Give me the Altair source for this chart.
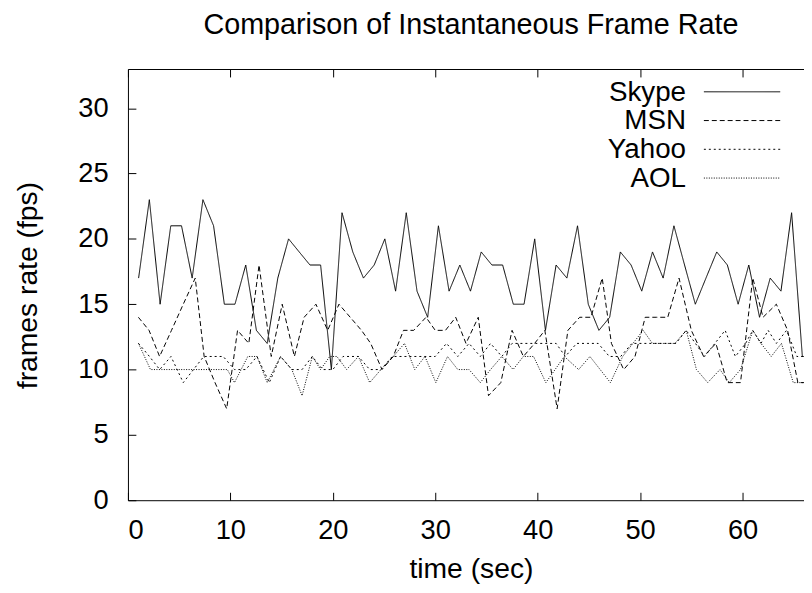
import altair as alt
import pandas as pd

names = ["Skype", "MSN", "Yahoo", "AOL"]

skype_t = [1.04, 2.09, 3.14, 4.18, 5.23, 6.27, 7.32, 8.36, 9.41, 10.45, 11.5, 12.54, 13.59, 14.63, 15.68, 16.72,
           17.77, 18.81, 19.86, 20.9, 21.95, 22.99, 24.04, 25.08, 26.13, 27.17, 28.22, 29.26, 30.31, 31.35, 32.4,
           33.44, 34.49, 35.53, 36.58, 37.62, 38.67, 39.71, 40.76, 41.8, 42.85, 43.89, 44.94, 45.98, 47.03, 48.07,
           49.12, 50.16, 51.21, 52.25, 53.3, 54.34, 55.39, 56.43, 57.48, 58.52, 59.57, 60.61, 61.66, 62.7, 63.75,
           64.79, 65.84, 66.88]
skype_v = [17, 23, 15, 21, 21, 17, 23, 21, 15, 15, 18, 13, 12, 17, 20, 19, 18, 18, 10, 22, 19, 17, 18, 20, 16, 22,
           16, 14, 21, 16, 18, 16, 19, 18, 18, 15, 15, 20, 13, 18, 17, 21, 15, 13, 14, 19, 18, 16, 19, 17, 21, 18,
           15, 17, 19, 18, 15, 18, 14, 17, 16, 22, 11, 11]

msn_t = [1.02, 2.06, 3.09, 4.25, 5.4, 6.57, 7.44, 8.5, 9.64, 10.7, 11.8, 12.8, 13.99, 15.06, 16.25, 17.2, 18.35,
         19.5, 20.6, 21.7, 22.8, 23.7, 24.8, 25.9, 26.9, 27.9, 29.1, 30.0, 31.0, 32.0, 33.0, 34.2, 35.2, 36.4, 37.5,
         38.6, 39.7, 40.7, 41.9, 42.95, 44.1, 45.2, 46.3, 47.2, 48.4, 49.5, 50.5, 51.6, 52.7, 53.8, 55.0, 56.2,
         57.4, 58.5, 59.8, 61.0, 62.0, 63.3, 64.4, 65.4, 66.5]
msn_v = [14, 13, 11, 13, 15, 17, 11, 9, 7, 13, 12, 18, 11, 15, 11, 14, 15, 13, 15, 14, 13, 12, 10, 11, 13, 13, 14,
         13, 13, 14, 12, 14, 8, 9, 13, 11, 12, 13, 7, 13, 14, 14, 17, 12, 10, 11, 14, 14, 14, 17, 13, 11, 12, 9, 9,
         17, 14, 15, 13, 9, 9]

yahoo_t = [1.03, 2.1, 3.1, 4.2, 5.4, 6.4, 7.4, 8.4, 9.3, 10.4, 11.5, 12.6, 13.8, 14.9, 16.0, 17.0, 18.0, 19.0,
           20.0, 21.0, 22.5, 23.6, 24.7, 25.8, 26.8, 27.9, 29.0, 30.0, 31.1, 32.2, 33.3, 34.4, 35.4, 36.5, 37.5,
           38.6, 39.7, 40.8, 41.8, 42.7, 43.8, 44.9, 45.9, 47.0, 48.1, 49.2, 50.2, 51.3, 52.4, 53.5, 54.5, 55.4,
           56.3, 57.3, 58.3, 59.3, 60.3, 61.0, 61.8, 62.5, 63.3, 64.3, 65.3, 66.3]
yahoo_v = [12, 11, 10, 11, 9, 10, 11, 11, 11, 10, 10, 11, 9, 11, 10, 10, 11, 10, 10, 11, 11, 10, 10, 11, 11, 11, 11,
           11, 12, 11, 12, 11, 12, 11, 12, 12, 12, 12, 12, 11, 12, 12, 12, 11, 11, 12, 12, 12, 12, 12, 13, 12, 11,
           12, 13, 11, 12, 13, 12, 13, 12, 13, 11, 11]

aol_t = [1.03, 2.2, 3.3, 4.4, 5.5, 6.5, 7.6, 8.6, 9.7, 10.4, 11.7, 12.6, 13.6, 14.9, 16.0, 17.0, 18.0, 18.8, 19.7,
         20.4, 21.35, 22.5, 23.6, 24.7, 25.9, 27.0, 28.0, 29.0, 30.06, 31.2, 32.2, 33.3, 34.4, 35.4, 36.5, 37.6,
         38.6, 39.6, 40.8, 41.7, 42.6, 44.0, 45.1, 47.1, 48.3, 49.3, 50.3, 51.2, 52.3, 53.4, 54.5, 55.5, 56.6,
         57.8, 58.7, 59.8, 61.0, 61.8, 62.8, 63.8, 64.95, 65.9, 67.0]
aol_v = [12, 10, 10, 10, 10, 10, 10, 10, 10, 9, 11, 11, 9, 11, 10, 8, 11, 10, 11, 11, 10, 11, 9, 10, 11, 12, 10, 11,
         9, 11, 10, 10, 9, 10, 11, 10, 11, 11, 9, 10, 11, 10, 11, 9, 11, 12, 13, 12, 12, 12, 13, 10, 9, 10, 9, 10,
         13, 12, 11, 12, 9, 9, 9]

x_ticks = [0, 10, 20, 30, 40, 50, 60]
y_ticks = [0, 5, 10, 15, 20, 25, 30]
dashes = [[1, 0], [5, 3], [2, 3], [1, 1.5]]

frames = []
for name, t, v in zip(names, [skype_t, msn_t, yahoo_t, aol_t], [skype_v, msn_v, yahoo_v, aol_v]):
    frames.append(pd.DataFrame({"series": name, "t": t, "v": v}))
df = pd.concat(frames, ignore_index=True)
leg_df = pd.DataFrame({"series": names})

FONT = "Liberation Sans"
W, H = 682, 435

xscale = alt.Scale(domain=[0, 66], nice=False, zero=False)
yscale = alt.Scale(domain=[0, 33], nice=False)
dash_scale = alt.Scale(domain=names, range=dashes)

lines = alt.Chart(df).mark_line(clip=True, strokeWidth=1, color="black").encode(
    x=alt.X("t:Q", scale=xscale, axis=alt.Axis(
        values=x_ticks, title="time (sec)", labelFont=FONT, labelFontSize=27.5, labelColor="black",
        labelPadding=17, ticks=False, tickSize=0, domainColor="black", domainWidth=1,
        grid=True, gridDash=[8, H - 16, 8, 3000], gridColor="black", gridWidth=1, gridOpacity=1,
        titleFont=FONT, titleFontSize=28.5, titleFontWeight="normal", titleColor="black",
        titleX=346, titleY=78, titleBaseline="alphabetic", titleAlign="center")),
    y=alt.Y("v:Q", scale=yscale, axis=alt.Axis(
        values=y_ticks, title="frames rate (fps)", labelFont=FONT, labelFontSize=27.5, labelColor="black",
        labelPadding=20, labelBaseline="middle", ticks=False, tickSize=0, domainColor="black", domainWidth=1,
        grid=True, gridDash=[8, 3000], gridColor="black", gridWidth=1, gridOpacity=1,
        titleFont=FONT, titleFontSize=28.5, titleFontWeight="normal", titleColor="black",
        titleAngle=270, titleX=-92, titleY=218, titleBaseline="alphabetic", titleAlign="center")),
    strokeDash=alt.StrokeDash("series:N", scale=dash_scale, legend=None),
)

top_axis = alt.Chart(df).mark_point(opacity=0).encode(
    x=alt.X("t:Q", scale=xscale, axis=alt.Axis(
        orient="top", labels=False, ticks=False, grid=False, domain=True,
        domainColor="black", domainWidth=1, title=None)),
)

leg_y = alt.Y("series:N", scale=alt.Scale(type="point", domain=names, range=[23, 110], padding=0), axis=None)

leg_text = alt.Chart(leg_df).mark_text(
    align="right", baseline="middle", font=FONT, fontSize=28, color="black", dy=1
).encode(y=leg_y, x=alt.value(563), text="series:N")

leg_rule = alt.Chart(leg_df).mark_rule(strokeWidth=1, color="black").encode(
    y=leg_y, x=alt.value(581), x2=alt.value(658),
    strokeDash=alt.StrokeDash("series:N", scale=dash_scale, legend=None),
)

chart = alt.layer(lines, top_axis, leg_text, leg_rule).resolve_scale(
    y="independent"
).resolve_axis(x="independent").properties(
    width=W, height=H,
    title=alt.TitleParams("Comparison of Instantaneous Frame Rate", font=FONT, fontSize=29,
                          fontWeight="normal", color="black", anchor="middle", frame="group",
                          dx=5, dy=28, offset=34, baseline="alphabetic"),
    autosize=alt.AutoSizeParams(type="none"),
    padding={"left": 121, "top": 59, "right": 0, "bottom": 85},
    background="white",
).configure_view(stroke=None)

chart.save("out.html", embed_options={"renderer": "svg", "actions": False})
